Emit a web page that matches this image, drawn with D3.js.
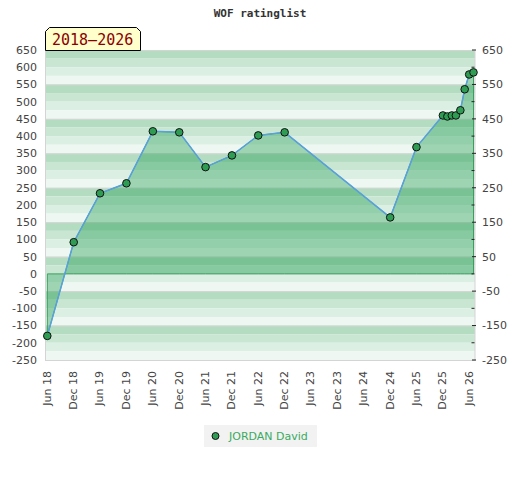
<!DOCTYPE html>
<html><head><meta charset="utf-8">
<script src="https://cdn.jsdelivr.net/npm/d3@7"></script>
<style>body{margin:0;background:#fff}</style>
</head><body><svg id="c" width="520" height="480"></svg>
<script>
const title = "WOF ratinglist";
const periodLabel = "2018–2026";
const seriesName = "JORDAN David";
const dates = ["2018-06-01","2018-12-01","2019-06-01","2019-12-01","2020-06-01","2020-12-01","2021-06-01","2021-12-01","2022-06-01","2022-12-01","2024-12-01","2025-06-01","2025-12-01","2026-01-01","2026-02-01","2026-03-01","2026-04-01","2026-05-01","2026-06-01","2026-07-01"];
const ratings = [-180, 92, 234, 263, 414, 411, 310, 344, 402, 411, 164, 368, 460, 457, 460, 460, 475, 536, 579, 585];
const xTickDates = ["2018-06-01","2018-12-01","2019-06-01","2019-12-01","2020-06-01","2020-12-01","2021-06-01","2021-12-01","2022-06-01","2022-12-01","2023-06-01","2023-12-01","2024-06-01","2024-12-01","2025-06-01","2025-12-01","2026-06-01"];
const xTickLabels = ["Jun 18","Dec 18","Jun 19","Dec 19","Jun 20","Dec 20","Jun 21","Dec 21","Jun 22","Dec 22","Jun 23","Dec 23","Jun 24","Dec 24","Jun 25","Dec 25","Jun 26"];
const leftTicks = [650,600,550,500,450,400,350,300,250,200,150,100,50,0,-50,-100,-150,-200,-250];
const rightTicks = [650,550,450,350,250,150,50,-50,-150,-250];
const stripeColors = ["#b3dcc1","#c9e6d3","#dcefe3","#eef7f1"];

const svg = d3.select("#c");
const L = 46, R = 475, T = 50, B = 360;
const x = d3.scaleUtc().domain([new Date("2018-06-01"), new Date("2026-07-01")]).range([47.3, 473.5]);
const y = d3.scaleLinear().domain([-250, 650]).range([B, T]);

const data = dates.map((d, i) => ({date: new Date(d), v: ratings[i]}));

// stripes
const stripeTops = d3.range(0, 36).map(i => 650 - 25 * i);
svg.append("g").selectAll("rect").data(stripeTops).join("rect")
  .attr("x", L).attr("width", R - L)
  .attr("y", d => y(d)).attr("height", d => y(d - 25) - y(d))
  .attr("fill", (d, i) => stripeColors[i % 4]);

// gridlines
svg.append("g").selectAll("line").data(rightTicks.slice(1, -1)).join("line")
  .attr("x1", L).attr("x2", R).attr("y1", d => y(d) + 0.5).attr("y2", d => y(d) + 0.5)
  .attr("stroke", "#d6d6d6").attr("stroke-width", 1);

// frame
svg.append("rect").attr("x", 45.5).attr("y", T + 0.5).attr("width", R - 45.5).attr("height", B - T)
  .attr("fill", "none").attr("stroke", "#d4d4d4");

// area
const area = d3.area().x(d => x(d.date)).y0(y(0)).y1(d => y(d.v));
svg.append("path").datum(data).attr("d", area)
  .attr("fill", "rgba(20,150,70,0.36)").attr("stroke", "#3c9e5e").attr("stroke-width", 1);

// line
const line = d3.line().x(d => x(d.date)).y(d => y(d.v));
svg.append("path").datum(data).attr("d", line)
  .attr("fill", "none").attr("stroke", "#5aa0dc").attr("stroke-width", 1.5);

// right axis ticks
svg.append("g").selectAll("line").data(leftTicks).join("line")
  .attr("x1", d => rightTicks.includes(d) ? 472 : 471.5)
  .attr("x2", d => rightTicks.includes(d) ? 476 : 474.5)
  .attr("y1", d => y(d)).attr("y2", d => y(d))
  .attr("stroke", "#222").attr("stroke-width", 1);

// points
svg.append("g").selectAll("circle").data(data).join("circle")
  .attr("cx", d => x(d.date)).attr("cy", d => y(d.v)).attr("r", 3.8)
  .attr("fill", "#2e9c52").attr("stroke", "#111").attr("stroke-width", 1);

// left labels
svg.append("g").selectAll("text").data(leftTicks).join("text")
  .attr("x", 37).attr("y", d => y(d)).attr("dy", "0.35em")
  .attr("text-anchor", "end").attr("font-family", "DejaVu Sans").attr("font-size", 11)
  .attr("fill", "#444").text(d => d);

// right labels
svg.append("g").selectAll("text").data(rightTicks).join("text")
  .attr("x", 482).attr("y", d => y(d)).attr("dy", "0.35em")
  .attr("text-anchor", "start").attr("font-family", "DejaVu Sans").attr("font-size", 11)
  .attr("fill", "#444").text(d => d);

// x labels
svg.append("g").selectAll("text").data(xTickDates).join("text")
  .attr("transform", d => `translate(${x(new Date(d)) - 0.5},371) rotate(-90)`)
  .attr("dy", "0.35em").attr("text-anchor", "end")
  .attr("font-family", "DejaVu Sans").attr("font-size", 11).attr("fill", "#444")
  .text((d, i) => xTickLabels[i]);

// title
svg.append("text").attr("x", 260).attr("y", 17).attr("text-anchor", "middle")
  .attr("font-family", "DejaVu Sans Mono").attr("font-weight", "bold").attr("font-size", 11)
  .attr("fill", "#333").text(title);

// period box
svg.append("path").attr("d", "M45.5,50.5 L45.5,31.5 L49.5,27.5 L136.5,27.5 L140.5,31.5 L140.5,50.5 Z")
  .attr("fill", "#ffffcc").attr("stroke", "#000").attr("stroke-width", 1);
svg.append("text").attr("x", 52).attr("y", 45)
  .attr("font-family", "DejaVu Sans Mono").attr("font-size", 15).attr("fill", "#8b0000")
  .text(periodLabel);

// legend
svg.append("rect").attr("x", 204).attr("y", 425).attr("width", 113).attr("height", 22).attr("fill", "#f2f2f2");
svg.append("circle").attr("cx", 215.5).attr("cy", 436).attr("r", 3.5)
  .attr("fill", "#2e9c52").attr("stroke", "#111").attr("stroke-width", 1);
svg.append("text").attr("x", 229).attr("y", 440)
  .attr("font-family", "DejaVu Sans").attr("font-size", 11).attr("fill", "#3aaa60")
  .text(seriesName);
</script></body></html>
